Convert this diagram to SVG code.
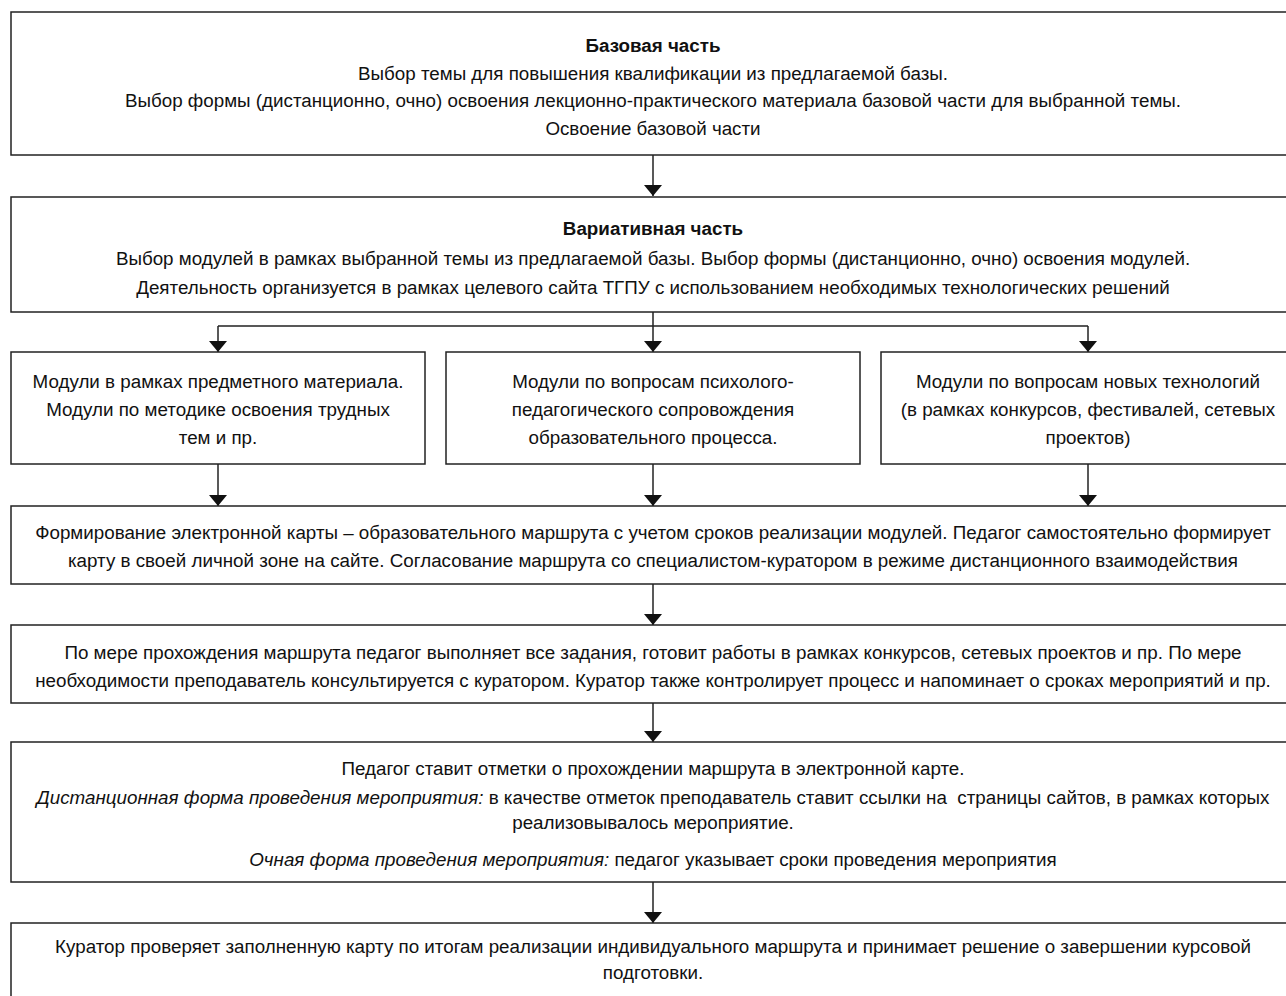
<svg xmlns="http://www.w3.org/2000/svg" width="1286" height="996" viewBox="0 0 1286 996">
<style>
.box{fill:#fff;stroke:#222;stroke-width:1.5}
text{font-family:"Liberation Sans",Arial,sans-serif;font-size:18.8px;fill:#111;text-anchor:middle}
.b{font-weight:bold}
.i{font-style:italic}
.ln{fill:none;stroke:#222;stroke-width:1.5}
.ah{fill:#111}
</style>
<defs>
<marker id="arr" viewBox="0 0 11 18" refX="11" refY="9" markerWidth="11" markerHeight="18" markerUnits="userSpaceOnUse" orient="auto">
<path d="M0,0 L11,9 L0,18 Z" class="ah"/>
</marker>
</defs>
<rect width="1286" height="996" fill="#fff"/>

<g id="connectors">
<line class="ln" x1="653" y1="155" x2="653" y2="196" marker-end="url(#arr)"/>
<path class="ln" d="M653,312 V326 M218,326 H1088"/>
<line class="ln" x1="218" y1="326" x2="218" y2="352" marker-end="url(#arr)"/>
<line class="ln" x1="653" y1="326" x2="653" y2="352" marker-end="url(#arr)"/>
<line class="ln" x1="1088" y1="326" x2="1088" y2="352" marker-end="url(#arr)"/>
<line class="ln" x1="218" y1="464" x2="218" y2="506" marker-end="url(#arr)"/>
<line class="ln" x1="653" y1="464" x2="653" y2="506" marker-end="url(#arr)"/>
<line class="ln" x1="1088" y1="464" x2="1088" y2="506" marker-end="url(#arr)"/>
<line class="ln" x1="653" y1="584" x2="653" y2="625" marker-end="url(#arr)"/>
<line class="ln" x1="653" y1="703" x2="653" y2="742" marker-end="url(#arr)"/>
<line class="ln" x1="653" y1="882" x2="653" y2="923" marker-end="url(#arr)"/>
</g>

<g id="base">
<rect class="box" x="11" y="12" width="1284" height="143"/>
<text x="653" y="52" class="b">Базовая часть</text>
<text x="653" y="80">Выбор темы для повышения квалификации из предлагаемой базы.</text>
<text x="653" y="107">Выбор формы (дистанционно, очно) освоения лекционно-практического материала базовой части для выбранной темы.</text>
<text x="653" y="135">Освоение базовой части</text>
</g>

<g id="variative">
<rect class="box" x="11" y="197" width="1284" height="115"/>
<text x="653" y="235" class="b">Вариативная часть</text>
<text x="653" y="265">Выбор модулей в рамках выбранной темы из предлагаемой базы. Выбор формы (дистанционно, очно) освоения модулей.</text>
<text x="653" y="294">Деятельность организуется в рамках целевого сайта ТГПУ с использованием необходимых технологических решений</text>
</g>

<g id="mod1">
<rect class="box" x="11" y="352" width="414" height="112"/>
<text x="218" y="388">Модули в рамках предметного материала.</text>
<text x="218" y="416">Модули по методике освоения трудных</text>
<text x="218" y="444">тем и пр.</text>
</g>

<g id="mod2">
<rect class="box" x="446" y="352" width="414" height="112"/>
<text x="653" y="388">Модули по вопросам психолого-</text>
<text x="653" y="416">педагогического сопровождения</text>
<text x="653" y="444">образовательного процесса.</text>
</g>

<g id="mod3">
<rect class="box" x="881" y="352" width="414" height="112"/>
<text x="1088" y="388">Модули по вопросам новых технологий</text>
<text x="1088" y="416">(в рамках конкурсов, фестивалей, сетевых</text>
<text x="1088" y="444">проектов)</text>
</g>

<g id="map">
<rect class="box" x="11" y="506" width="1284" height="78"/>
<text x="653" y="539">Формирование электронной карты – образовательного маршрута с учетом сроков реализации модулей. Педагог самостоятельно формирует</text>
<text x="653" y="567">карту в своей личной зоне на сайте. Согласование маршрута со специалистом-куратором в режиме дистанционного взаимодействия</text>
</g>

<g id="route">
<rect class="box" x="11" y="625" width="1284" height="78"/>
<text x="653" y="659">По мере прохождения маршрута педагог выполняет все задания, готовит работы в рамках конкурсов, сетевых проектов и пр. По мере</text>
<text x="653" y="687">необходимости преподаватель консультируется с куратором. Куратор также контролирует процесс и напоминает о сроках мероприятий и пр.</text>
</g>

<g id="marks">
<rect class="box" x="11" y="742" width="1284" height="140"/>
<text x="653" y="775">Педагог ставит отметки о прохождении маршрута в электронной карте.</text>
<text x="653" y="804" style="white-space:pre"><tspan class="i">Дистанционная форма проведения мероприятия:</tspan> в качестве отметок преподаватель ставит ссылки на  страницы сайтов, в рамках которых</text>
<text x="653" y="829">реализовывалось мероприятие.</text>
<text x="653" y="866"><tspan class="i">Очная форма проведения мероприятия:</tspan> педагог указывает сроки проведения мероприятия</text>
</g>

<g id="final">
<rect class="box" x="11" y="923" width="1284" height="100"/>
<text x="653" y="953">Куратор проверяет заполненную карту по итогам реализации индивидуального маршрута и принимает решение о завершении курсовой</text>
<text x="653" y="979">подготовки.</text>
</g>
</svg>
